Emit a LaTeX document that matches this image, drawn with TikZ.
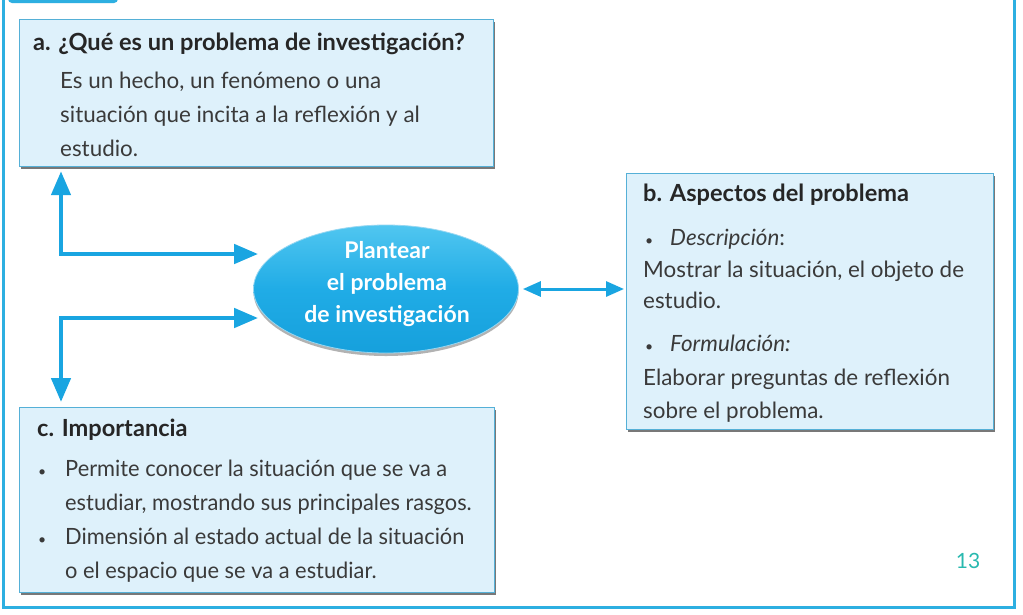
\documentclass[tikz,border=0pt]{standalone}
\usepackage{fontspec}
\setmainfont{Lato}
\newfontfamily\condfont[FakeStretch=0.975]{Lato}
\usetikzlibrary{shapes.geometric,arrows.meta,shadows,calc}
\definecolor{framec}{RGB}{45,175,225}
\definecolor{boxfill}{RGB}{222,241,251}
\definecolor{boxline}{RGB}{85,176,215}
\definecolor{arrowc}{RGB}{25,165,225}
\definecolor{txt}{RGB}{58,58,58}
\definecolor{ttl}{RGB}{38,38,38}
\definecolor{pnum}{RGB}{40,185,175}
\definecolor{ellTop}{RGB}{80,198,240}
\definecolor{ellMid}{RGB}{32,172,230}
\definecolor{ellBot}{RGB}{22,160,220}
\begin{document}
\begin{tikzpicture}[x=1pt,y=-1pt,
  infobox/.style={draw=boxline, line width=1.2pt, fill=boxfill, anchor=north west, inner sep=0pt,
    drop shadow={shadow xshift=1.5pt, shadow yshift=-2.5pt, fill=black!75, opacity=0.7}},
  tline/.style={anchor=base west, inner sep=0pt, text=txt, font=\fontsize{22.4}{26}\selectfont},
  cline/.style={anchor=base west, inner sep=0pt, text=txt, font=\condfont\fontsize{22.4}{26}\selectfont},
  ttitle/.style={anchor=base west, inner sep=0pt, text=ttl, font=\fontsize{23.6}{26}\selectfont\bfseries},
  bul/.style={anchor=base west, inner sep=0pt, text=txt, font=\fontsize{14}{16}\selectfont},
  link/.style={draw=arrowc, line width=4.5pt,
    {Triangle[length=24pt,width=19pt]}-{Triangle[length=24pt,width=19pt]}},
  dlink/.style={draw=arrowc, line width=3pt,
    {Triangle[length=18pt,width=15pt]}-{Triangle[length=18pt,width=15pt]}}
]
\useasboundingbox (0,0) rectangle (1023,614);
\fill[white] (0,0) rectangle (1023,614);
% page frame
\fill[framec, rounded corners=4pt] (8,-10) rectangle (118,3);
\draw[framec, line width=3pt] (3,-2) -- (3,607) -- (1014,607) -- (1014,-2);

% boxes
\node[infobox, minimum width=474pt, minimum height=147pt] (boxa) at (19,19) {};
\node[infobox, minimum width=367pt, minimum height=256pt] (boxb) at (626,173) {};
\node[infobox, minimum width=475pt, minimum height=185pt] (boxc) at (19,407) {};

% ellipse
\node[ellipse, minimum width=265pt, minimum height=128pt, top color=ellTop, bottom color=ellBot,
  middle color=ellMid,
  draw=white!55!arrowc, line width=0.8pt,
  drop shadow={shadow xshift=0pt, shadow yshift=-3pt, fill=black!60, opacity=0.5}] (ell) at (386,289) {};
\node[text=white, font=\fontsize{23}{32}\selectfont\bfseries, align=center] (ellt) at (387,284)
  {Plantear\\el problema\\de investigación};

% box a text
\node[ttitle] (ta0) at (33,50) {a. ¿Qué es un problema de investigación?};
\node[tline] (ta1) at (60,88) {Es un hecho, un fenómeno o una};
\node[tline] (ta2) at (60,122) {situación que incita a la reflexión y al};
\node[tline] (ta3) at (60,156) {estudio.};

% box b text
\node[ttitle] (tb0) at (643,201) {b. Aspectos del problema};
\node[bul] (bb1) at (645,245) {•};
\node[tline] (tb1) at (670,245) {\textit{Descripción}:};
\node[tline] (tb2) at (643,277) {Mostrar la situación, el objeto de};
\node[tline] (tb3) at (643,308) {estudio.};
\node[bul] (bb2) at (645,351) {•};
\node[tline] (tb4) at (670,351) {\textit{Formulación:}};
\node[tline] (tb5) at (643,385) {Elaborar preguntas de reflexión};
\node[tline] (tb6) at (643,418) {sobre el problema.};

% box c text
\node[ttitle] (tc0) at (37,436) {c. Importancia};
\node[bul] (bc1) at (38,476) {•};
\node[cline] (tc1) at (65,476) {Permite conocer la situación que se va a};
\node[cline] (tc2) at (65,510) {estudiar, mostrando sus principales rasgos.};
\node[bul] (bc2) at (38,544) {•};
\node[cline] (tc3) at (65,544) {Dimensión al estado actual de la situación};
\node[cline] (tc4) at (65,578) {o el espacio que se va a estudiar.};

% page number
\node[anchor=base, inner sep=0pt, text=pnum, font=\fontsize{21}{24}\selectfont] (pn) at (968,568) {13};

% connectors
\draw[link] ([xshift=42pt,yshift=-4pt]boxa.south west) |- ([xshift=5pt,yshift=35pt]ell.west);
\draw[link] ([xshift=42pt,yshift=5pt]boxc.north west) |- ([xshift=5pt,yshift=-29pt]ell.west);
\draw[dlink] ([xshift=4pt]ell.east) -- ($(ell.east -| boxb.west)+(-2,0)$);
\end{tikzpicture}
\end{document}
